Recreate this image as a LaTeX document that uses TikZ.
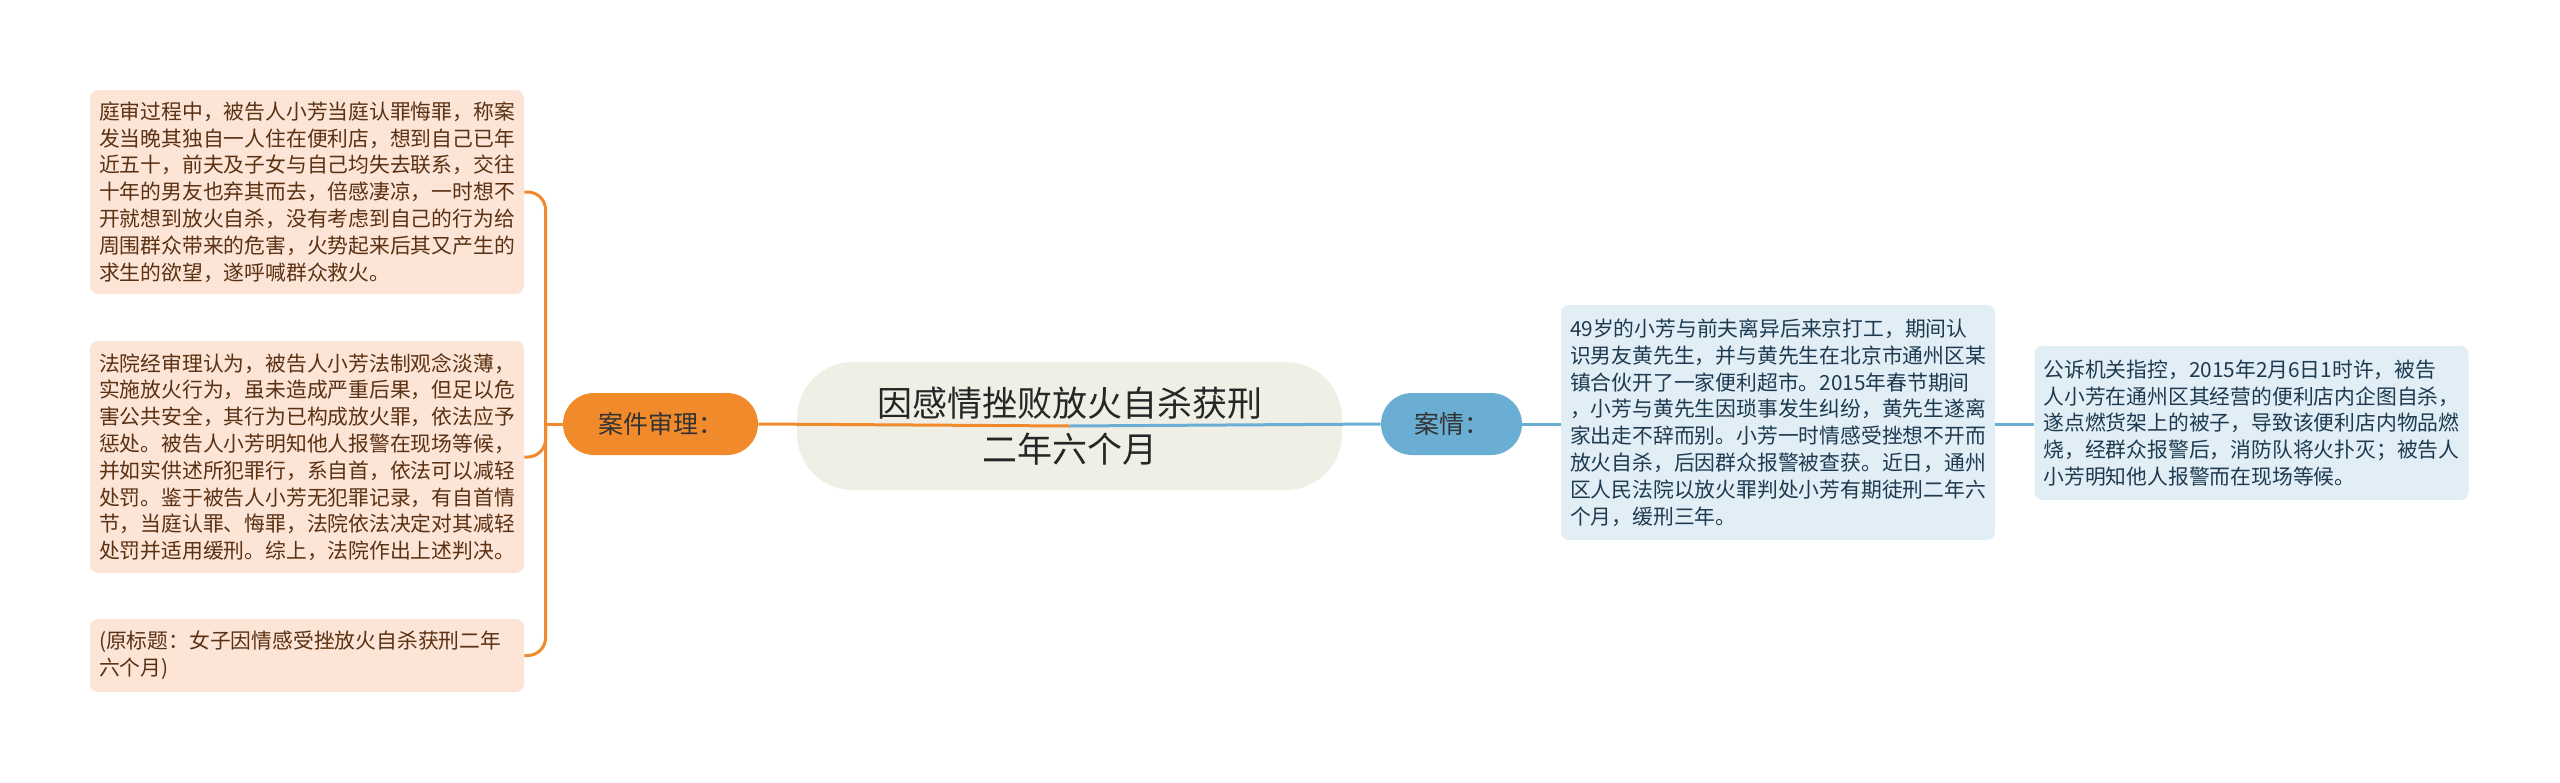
\documentclass[tikz,border=0pt]{standalone}
\usepackage{fontspec}
\setmainfont{Noto Sans CJK SC}
\usepackage{xcolor}
\definecolor{trialorange}{HTML}{F18A2B}
\definecolor{trialfill}{HTML}{FCE4D6}
\definecolor{trialtext}{HTML}{5B3113}
\definecolor{caseblue}{HTML}{6AAED3}
\definecolor{casefill}{HTML}{E1EEF6}
\definecolor{casetext}{HTML}{1E3A50}
\definecolor{rootfill}{HTML}{EFEFE6}

\begin{document}
\begin{tikzpicture}[x=0.5pt,y=-0.5pt,
    leaf/.style={rounded corners=4pt, inner xsep=4.5pt, inner ysep=0pt, text width=208pt,
      align=left, font=\fontsize{10.4}{13.4}\selectfont},
    trialleaf/.style={leaf, fill=trialfill, text=trialtext},
    caseleaf/.style={leaf, fill=casefill, text=casetext},
    topic/.style={rounded corners=15.5pt, minimum height=31pt, inner sep=0pt,
      font=\fontsize{12.5}{14}\selectfont, text=black!80},
    trialline/.style={draw=trialorange, line width=1.5pt},
    caseline/.style={draw=caseblue, line width=1.5pt}]
  \useasboundingbox (0,0) rectangle (2560,782);

  \node[fill=rootfill, rounded corners=28pt, minimum width=272.5pt, minimum height=64pt,
        align=center, font=\fontsize{17.5}{23}\selectfont, text=black!85] (root) at (1069.5,426)
        {因感情挫败放火自杀获刑\\二年六个月};

  \node[topic, fill=trialorange, minimum width=97.5pt] (trial) at (660.5,424) {案件审理：};
  \node[topic, fill=caseblue, minimum width=70.5pt] (case) at (1451.5,424) {案情：};

  \node[trialleaf, minimum height=102pt] (trial1) at (307,192)
    {庭审过程中，被告人小芳当庭认罪悔罪，称案\\
     发当晚其独自一人住在便利店，想到自己已年\\
     近五十，前夫及子女与自己均失去联系，交往\\
     十年的男友也弃其而去，倍感凄凉，一时想不\\
     开就想到放火自杀，没有考虑到自己的行为给\\
     周围群众带来的危害，火势起来后其又产生的\\
     求生的欲望，遂呼喊群众救火。};
  \node[trialleaf, minimum height=116pt] (trial2) at (307,457)
    {法院经审理认为，被告人小芳法制观念淡薄，\\
     实施放火行为，虽未造成严重后果，但足以危\\
     害公共安全，其行为已构成放火罪，依法应予\\
     惩处。被告人小芳明知他人报警在现场等候，\\
     并如实供述所犯罪行，系自首，依法可以减轻\\
     处罚。鉴于被告人小芳无犯罪记录，有自首情\\
     节，当庭认罪、悔罪，法院依法决定对其减轻\\
     处罚并适用缓刑。综上，法院作出上述判决。};
  \node[trialleaf, minimum height=36.5pt] (trial3) at (307,655.5)
    {(原标题：女子因情感受挫放火自杀获刑二年\\
     六个月)};

  \node[caseleaf, minimum height=117.5pt] (case1) at (1778,422.5)
    {49岁的小芳与前夫离异后来京打工，期间认\\
     识男友黄先生，并与黄先生在北京市通州区某\\
     镇合伙开了一家便利超市。2015年春节期间\\
     ，小芳与黄先生因琐事发生纠纷，黄先生遂离\\
     家出走不辞而别。小芳一时情感受挫想不开而\\
     放火自杀，后因群众报警被查获。近日，通州\\
     区人民法院以放火罪判处小芳有期徒刑二年六\\
     个月，缓刑三年。};
  \node[caseleaf, minimum height=77pt] (case2) at (2251.5,423)
    {公诉机关指控，2015年2月6日1时许，被告\\
     人小芳在通州区其经营的便利店内企图自杀，\\
     遂点燃货架上的被子，导致该便利店内物品燃\\
     烧，经群众报警后，消防队将火扑灭；被告人\\
     小芳明知他人报警而在现场等候。};

  % connectors
  \draw[trialline] (trial.east) -- (root.center);
  \draw[caseline] (root.center) -- (case.west);
  \draw[trialline] (trial.west) -- ++(-17,0) coordinate (trunk);
  \foreach \n in {trial1,trial2,trial3}
    \draw[trialline, rounded corners=9pt] (trunk) |- (\n.east);
  \draw[caseline] (case.east) -- (case1.west |- case.east);
  \draw[caseline] (case1.east |- case.east) -- (case2.west |- case.east);
\end{tikzpicture}
\end{document}
